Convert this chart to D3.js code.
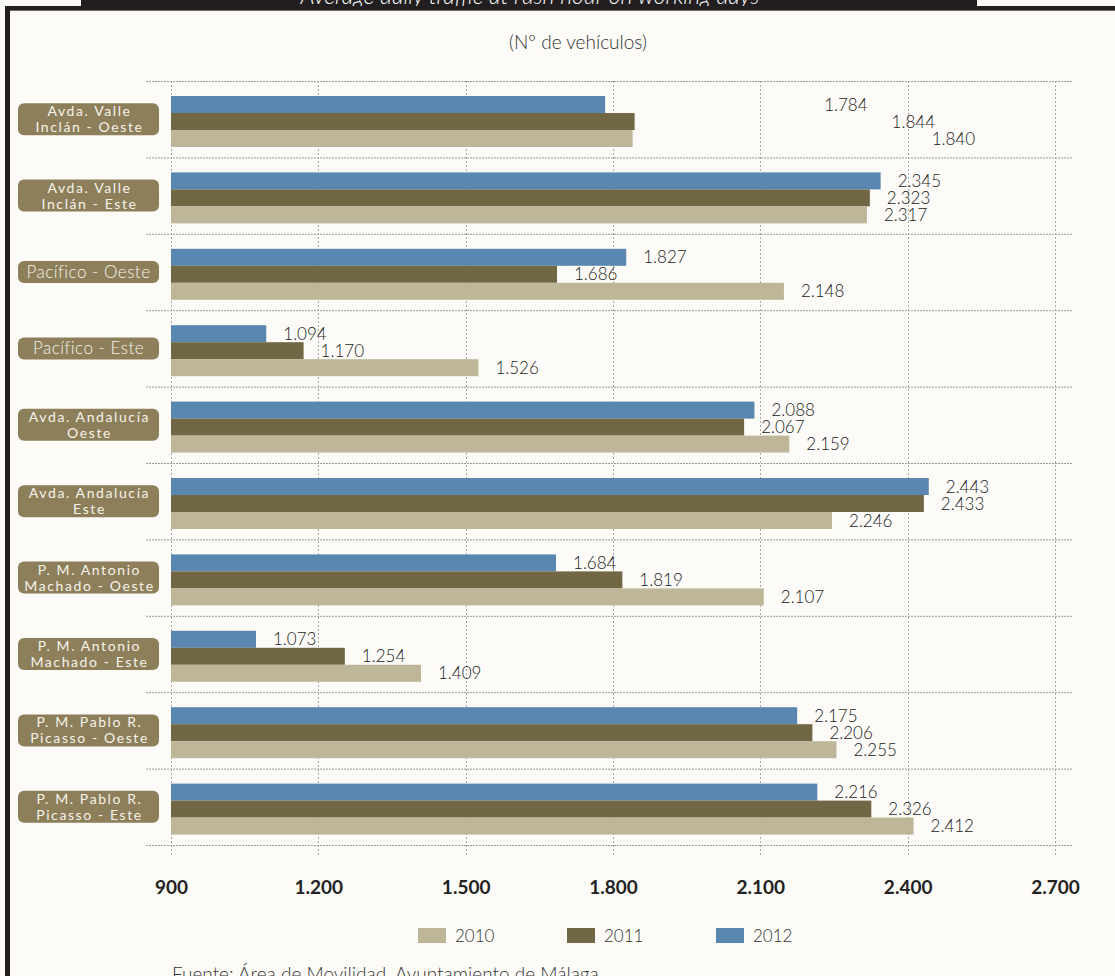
<!DOCTYPE html>
<html>
<head>
<meta charset="utf-8">
<script src="https://cdn.jsdelivr.net/npm/d3@7"></script>
<style>
  html, body { margin: 0; padding: 0; background: #fcfbf7; }
  svg { display: block; }
</style>
</head>
<body>
<svg id="chart" width="1115" height="976"></svg>
<script>
// ---------------- data ----------------
const categories = [
  "Avda. Valle|Inclán - Oeste",
  "Avda. Valle|Inclán - Este",
  "Pacífico - Oeste",
  "Pacífico - Este",
  "Avda. Andalucía|Oeste",
  "Avda. Andalucía|Este",
  "P. M. Antonio|Machado - Oeste",
  "P. M. Antonio|Machado - Este",
  "P. M. Pablo R.|Picasso - Oeste",
  "P. M. Pablo R.|Picasso - Este"
];
const years = ["2010", "2011", "2012"];
const values2010 = [1840, 2317, 2148, 1526, 2159, 2246, 2107, 1409, 2255, 2412];
const values2011 = [1844, 2323, 1686, 1170, 2067, 2433, 1819, 1254, 2206, 2326];
const values2012 = [1784, 2345, 1827, 1094, 2088, 2443, 1684, 1073, 2175, 2216];
const tickValues = [900, 1200, 1500, 1800, 2100, 2400, 2700];
const titleText = "Average daily traffic at rush hour on working days";
const subtitleText = "(Nº de vehículos)";
const sourceText = "Fuente: Área de Movilidad. Ayuntamiento de Málaga";

// ---------------- styles ----------------
const colors = { "2010": "#bdb698", "2011": "#716744", "2012": "#5987b0" };
const seriesValues = { "2010": values2010, "2011": values2011, "2012": values2012 };
const drawOrder = ["2012", "2011", "2010"]; // top to bottom within a group
const fontMain = "Lato, 'Open Sans', sans-serif";
// the first group's labels are printed far to the right in the original
const firstRowLabelShift = { "2012": 202, "2011": 240, "2010": 282 };

const svg = d3.select("#chart");

// frame
svg.append("rect").attr("x", 0).attr("y", 0).attr("width", 1115).attr("height", 976).attr("fill", "#fcfbf7");
svg.append("rect").attr("x", 81).attr("y", 0).attr("width", 896).attr("height", 7).attr("fill", "#231f20");
svg.append("text")
  .attr("x", 530).attr("y", 4)
  .attr("text-anchor", "middle")
  .attr("font-family", fontMain).attr("font-style", "italic").attr("font-weight", 300)
  .attr("font-size", 23).attr("fill", "#ffffff")
  .text(titleText);
svg.append("rect").attr("x", 5).attr("y", 6).attr("width", 1110).attr("height", 4).attr("fill", "#231f20");
svg.append("rect").attr("x", 10).attr("y", 10).attr("width", 1105).attr("height", 1).attr("fill", "#6e6b66");
svg.append("rect").attr("x", 5).attr("y", 6).attr("width", 5).attr("height", 970).attr("fill", "#231f20");

// subtitle
svg.append("text")
  .attr("x", 578).attr("y", 49)
  .attr("text-anchor", "middle")
  .attr("font-family", fontMain).attr("font-weight", 300)
  .attr("font-size", 19).attr("fill", "#333")
  .text(subtitleText);

// scales
const x = d3.scaleLinear().domain([900, 2700]).range([171, 1055]);
const y = d3.scaleBand().domain(categories).range([81, 845]).padding(0);
const yInner = d3.scaleBand().domain(drawOrder).range([15, 66]).padding(0);

// gridlines
const grid = svg.append("g");
const rowEdges = categories.map(c => y(c)).concat([y.range()[1]]);
grid.selectAll("line.h").data(rowEdges).join("line")
  .attr("class", "h")
  .attr("x1", 146).attr("x2", 1073)
  .attr("y1", d => d + 0.5).attr("y2", d => d + 0.5)
  .attr("stroke", "#9a9a9a").attr("stroke-width", 1).attr("stroke-dasharray", "2,1");
grid.selectAll("line.v").data(tickValues).join("line")
  .attr("class", "v")
  .attr("x1", d => Math.round(x(d)) + 0.5).attr("x2", d => Math.round(x(d)) + 0.5)
  .attr("y1", 81).attr("y2", 857)
  .attr("stroke", "#a8a8a8").attr("stroke-width", 1).attr("stroke-dasharray", "2,2");

// x axis tick labels
const xAxis = d3.axisBottom(x).tickValues(tickValues).tickSize(0)
  .tickFormat(d => d3.format(",")(d).replace(/,/g, "."));
const axG = svg.append("g").attr("transform", "translate(0,877)").call(xAxis);
axG.select(".domain").remove();
axG.selectAll("text")
  .attr("font-family", fontMain).attr("font-weight", 700)
  .attr("font-size", 19).attr("fill", "#222").attr("dy", "0.71em");

// bars and labels
const fmt = v => d3.format(",")(v).replace(/,/g, ".");
const groups = svg.append("g").selectAll("g.cat").data(categories).join("g")
  .attr("class", "cat")
  .attr("transform", d => `translate(0,${y(d)})`);

groups.each(function(cat, i) {
  const g = d3.select(this);
  drawOrder.forEach(yr => {
    const v = seriesValues[yr][i];
    const y0 = yInner(yr);
    g.append("rect")
      .attr("x", x(900))
      .attr("y", y0)
      .attr("width", x(v) - x(900))
      .attr("height", yInner.bandwidth())
      .attr("fill", colors[yr]);
    const shift = i === 0 ? firstRowLabelShift[yr] : 0;
    g.append("text")
      .attr("x", x(v) + 17 + shift)
      .attr("y", y0 + yInner.bandwidth() / 2 + 6)
      .attr("font-family", fontMain).attr("font-weight", 300)
      .attr("font-size", 17).attr("fill", "#222")
      .text(fmt(v));
  });
});

// category label boxes
const labG = svg.append("g").selectAll("g.lab").data(categories).join("g")
  .attr("class", "lab")
  .attr("transform", d => `translate(0,${y(d) + y.bandwidth() / 2})`);
labG.each(function(cat) {
  const g = d3.select(this);
  const lines = cat.split("|");
  const two = lines.length > 1;
  const h = two ? 32 : 22;
  g.append("rect")
    .attr("x", 18).attr("y", -h / 2).attr("width", 141).attr("height", h)
    .attr("rx", 6).attr("ry", 6)
    .attr("fill", "#8c7f5a");
  if (two) {
    lines.forEach((ln, k) => {
      g.append("text")
        .attr("x", 89.5).attr("y", k === 0 ? -3 : 13)
        .attr("text-anchor", "middle")
        .attr("font-family", fontMain).attr("font-weight", 400).attr("font-size", 14)
        .attr("letter-spacing", "1.6px")
        .attr("fill", "#f6f3ea")
        .text(ln);
    });
  } else {
    g.append("text")
      .attr("x", 88.5).attr("y", 6)
      .attr("text-anchor", "middle")
      .attr("font-family", fontMain).attr("font-weight", 300).attr("font-size", 17)
      .attr("letter-spacing", "0.5px")
      .attr("fill", "#f6f3ea")
      .text(lines[0]);
  }
});

// legend
const legendX = d3.scalePoint().domain(years).range([418, 716]);
const leg = svg.append("g").selectAll("g.leg").data(years).join("g")
  .attr("transform", d => `translate(${legendX(d)},928)`);
leg.append("rect").attr("width", 28).attr("height", 15).attr("fill", d => colors[d]);
leg.append("text").attr("x", 37).attr("y", 14)
  .attr("font-family", fontMain).attr("font-weight", 300)
  .attr("font-size", 17).attr("fill", "#333")
  .text(d => d);

// source
svg.append("text")
  .attr("x", 172).attr("y", 981)
  .attr("font-family", fontMain).attr("font-weight", 300)
  .attr("font-size", 19).attr("fill", "#333")
  .text(sourceText);
</script>
</body>
</html>
